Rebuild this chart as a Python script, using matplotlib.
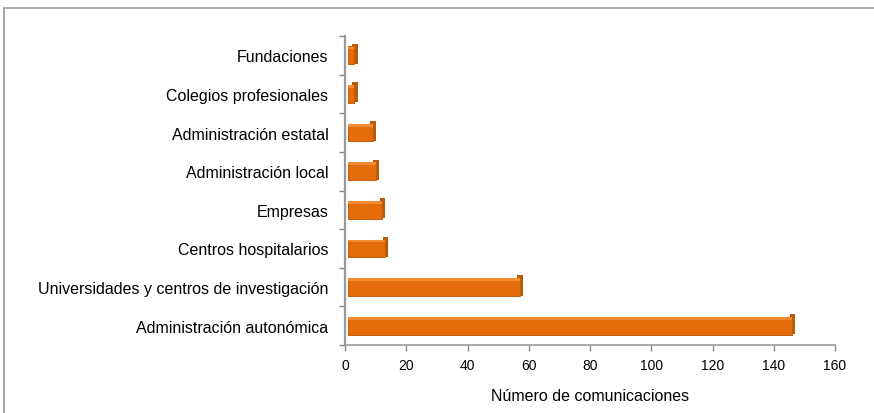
import matplotlib
matplotlib.use("Agg")
import matplotlib.pyplot as plt
from matplotlib.lines import Line2D

# datos (de abajo hacia arriba)
categorias = [
    "Administración autonómica",
    "Universidades y centros de investigación",
    "Centros hospitalarios",
    "Empresas",
    "Administración local",
    "Administración estatal",
    "Colegios profesionales",
    "Fundaciones",
]
comunicaciones = [145, 56, 12, 11, 9, 8, 2, 2]
xticks = [0, 20, 40, 60, 80, 100, 120, 140, 160]

FRONT = "#E46C0A"
TOP = "#F38A30"
CAP = "#B85A0A"

plt.rcParams["font.family"] = ["Liberation Sans", "DejaVu Sans"]

fig = plt.figure(figsize=(8.74, 4.14), dpi=100)
ax = fig.add_axes([345 / 874, 1 - 346 / 414, 490 / 874, 309 / 414])

# marco exterior (solo lineas izquierda y superior visibles)
fig.add_artist(Line2D([4 / 874, 4 / 874], [0, 1 - 9 / 414], color="#9a9a9a", lw=1.2))
fig.add_artist(Line2D([4 / 874, 1], [1 - 9 / 414, 1 - 9 / 414], color="#9a9a9a", lw=1.2))

y = list(range(len(categorias)))
h = 0.46
off = 1.0  # desplazamiento de la cara frontal (efecto 3D)
cap = 1.8

ax.barh([v + 0.04 for v in y], [cap] * len(y), height=h + 0.06,
        left=[c + off - 0.7 for c in comunicaciones],
        color=CAP, lw=0, zorder=2)
ax.barh(y, comunicaciones, height=h, left=off, color=FRONT, edgecolor="#BF5F0B", lw=0.7, zorder=3)
ax.barh([v + h / 2 - 0.04 for v in y], comunicaciones, height=0.07, left=off,
        color=TOP, lw=0, zorder=4)

ax.set_xlim(0, 160)
ax.set_ylim(-0.5, len(categorias) - 0.5)
ax.set_xticks(xticks)
ax.set_yticks([v - 0.5 for v in range(len(categorias) + 1)], minor=False)
ax.set_yticklabels([""] * (len(categorias) + 1))
ax.set_yticks(y, minor=True)
ax.set_yticklabels(categorias, minor=True, fontsize=11.5)
ax.tick_params(axis="y", which="minor", length=0, pad=12)
ax.tick_params(axis="y", which="major", length=4, width=1, color="#888888")
ax.tick_params(axis="x", length=4, width=1, color="#888888", labelsize=10, pad=5)

for s in ["top", "right"]:
    ax.spines[s].set_visible(False)
ax.spines["left"].set_color("#999999")
ax.spines["left"].set_linewidth(1.6)
ax.spines["bottom"].set_color("#999999")
ax.spines["bottom"].set_linewidth(1.2)

ax.set_xlabel("Número de comunicaciones", fontsize=11.5, labelpad=12)

fig.savefig("out.png", dpi=100)
